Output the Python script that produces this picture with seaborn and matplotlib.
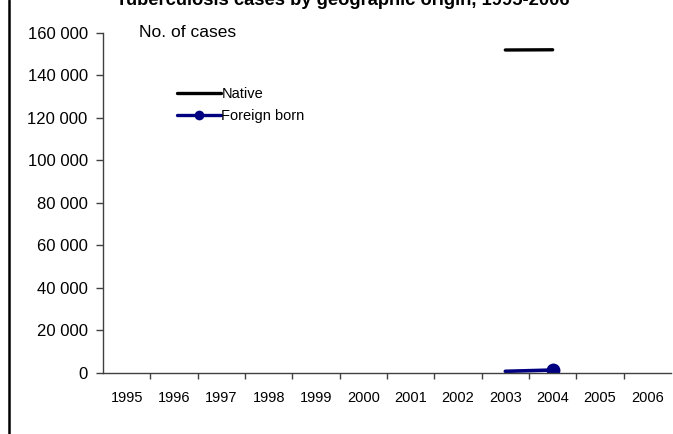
import numpy as np
import matplotlib
matplotlib.use("Agg")
import matplotlib.pyplot as plt
from matplotlib.lines import Line2D
from matplotlib.ticker import FuncFormatter, FixedLocator
import seaborn as sns

years = list(range(1995, 2007))
native = [np.nan] * 8 + [151800, 151900, np.nan, np.nan]
foreign_born = [np.nan] * 8 + [700, 1300, np.nan, np.nan]
series_labels = ["Native", "Foreign born"]
title = "Tuberculosis cases by geographic origin, 1995-2006"

sns.set_style("ticks")
plt.rcParams["font.family"] = ["Liberation Sans", "DejaVu Sans"]
plt.rcParams["text.color"] = "black"
plt.rcParams["xtick.labelcolor"] = "black"
plt.rcParams["ytick.labelcolor"] = "black"

fig = plt.figure(figsize=(6.73, 4.34), dpi=100)
ax = fig.add_axes([0.153, 0.141, 0.844, 0.784])

sns.lineplot(x=years, y=native, color="black", linewidth=2.4, ax=ax)
sns.lineplot(x=years, y=foreign_born, color="#000080", linewidth=2.6,
             marker="o", markersize=10, markevery=[1], markeredgewidth=0, ax=ax)

ax.set_xlim(1994.5, 2006.5)
ax.set_ylim(0, 160000)
ax.set_yticks(np.arange(0, 160001, 20000))
ax.yaxis.set_major_formatter(FuncFormatter(lambda v, p: f"{int(v):,}".replace(",", " ")))
ax.set_xticks(years)
ax.set_xticklabels([str(y) for y in years])
ax.xaxis.set_minor_locator(FixedLocator(np.arange(1995.5, 2006, 1.0)))
ax.tick_params(axis="x", which="major", length=0, pad=13, labelsize=10.5,
               labelcolor="black")
ax.tick_params(axis="x", which="minor", length=4, width=1, color="#404040")
ax.tick_params(axis="y", length=5, width=1, color="#404040", pad=6, labelsize=12,
               labelcolor="black")

for side in ["top", "right"]:
    ax.spines[side].set_visible(False)
for side in ["left", "bottom"]:
    ax.spines[side].set_color("#404040")
    ax.spines[side].set_linewidth(1)

ax.set_xlabel("")
ax.set_ylabel("")
ax.text(0.063, 1.0, "No. of cases", transform=ax.transAxes, fontsize=12.5,
        va="center", ha="left", color="black")

handles = [
    Line2D([], [], color="black", linewidth=2.4),
    Line2D([], [], color="#000080", linewidth=2.4, marker="o", markersize=7,
           markeredgewidth=0),
]
ax.legend(handles, series_labels, loc="upper left", bbox_to_anchor=(0.13, 0.84),
          frameon=False, fontsize=10.5, handlelength=3.0, handletextpad=0.05,
          labelspacing=0.55, borderpad=0, borderaxespad=0)

fig.text(0.51, 1 - 5 / 434, title, ha="center", va="baseline",
         fontsize=13.2, fontweight="bold", color="black")
fig.add_artist(Line2D([8.5 / 673, 8.5 / 673], [0, 1], color="black",
                      linewidth=1.8, transform=fig.transFigure))

fig.savefig("out.png", dpi=100)
